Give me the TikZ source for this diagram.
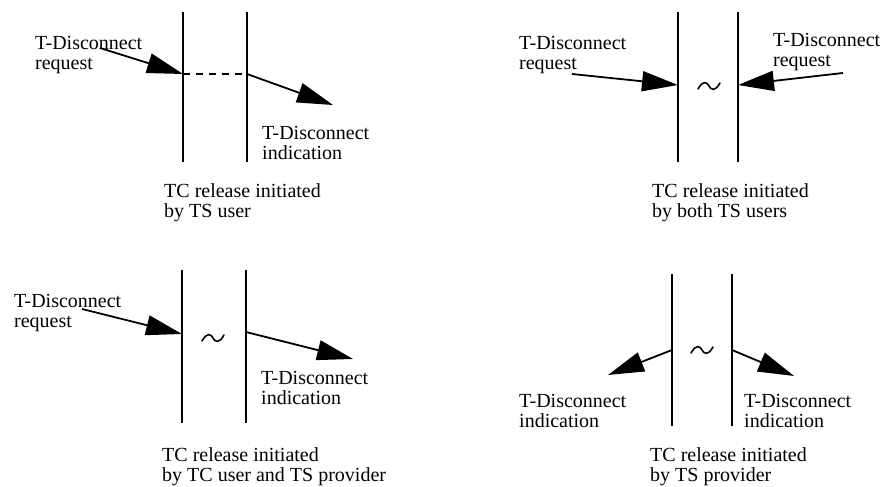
\documentclass[tikz,border=0pt]{standalone}
\usepackage{fontspec}
\setmainfont{Liberation Serif}
\usetikzlibrary{arrows.meta,calc}
\begin{document}
\begin{tikzpicture}[x=1pt,y=-1pt,
  lifeline/.style={line width=2pt},
  prim/.style={line width=1.8pt,-{Triangle[length=36pt,width=20pt]}},
  gap/.style={line width=1.8pt,dash pattern=on 7pt off 6pt},
  wave/.style={line width=1.6pt,line cap=round},
  lbl/.style={anchor=north west,inner sep=0pt,align=left,
    font=\fontsize{20}{20.5}\selectfont}]
\useasboundingbox (0,0) rectangle (892,487);

% ---- release initiated by one TS user ----
\coordinate (a1t) at (183,12);  \coordinate (a1b) at (183,162);
\coordinate (a2t) at (247,12);  \coordinate (a2b) at (247,162);
\coordinate (aL) at (183,74);   \coordinate (aR) at (247,74);
\coordinate (aIn) at (100,48);  \coordinate (aOut) at (333,105);
\draw[lifeline] (a1t) -- (a1b);
\draw[lifeline] (a2t) -- (a2b);
\node[lbl] (areq) at (35,36) {T-Disconnect\\request};
\node[lbl] (aind) at (262,126) {T-Disconnect\\indication};
\node[lbl] (acap) at (164,183) {TC release initiated\\by TS user};
\draw[prim] (aIn) -- (aL);
\draw[gap] (aL) -- (aR);
\draw[prim] (aR) -- (aOut);

% ---- release initiated by both TS users ----
\coordinate (b1t) at (678,12);  \coordinate (b1b) at (678,162);
\coordinate (b2t) at (738,12);  \coordinate (b2b) at (738,162);
\coordinate (bL) at (678,85);   \coordinate (bR) at (738,85);
\coordinate (bInL) at (572,74); \coordinate (bInR) at (843,73);
\coordinate (bw) at (709,86);
\draw[lifeline] (b1t) -- (b1b);
\draw[lifeline] (b2t) -- (b2b);
\node[lbl] (breqL) at (519,36) {T-Disconnect\\request};
\node[lbl] (breqR) at (773,33) {T-Disconnect\\request};
\node[lbl] (bcap) at (652,183) {TC release initiated\\by both TS users};
\draw[prim] (bInL) -- (bL);
\draw[prim] (bInR) -- (bR);
\draw[wave] ($(bw)+(-11,3)$) .. controls ($(bw)+(-6,-6)$) and ($(bw)+(-2,-4)$) .. (bw)
  .. controls ($(bw)+(2,4)$) and ($(bw)+(6,6)$) .. ($(bw)+(11,-3)$);

% ---- release initiated by TC user and TS provider ----
\coordinate (c1t) at (182,270); \coordinate (c1b) at (182,423);
\coordinate (c2t) at (246,270); \coordinate (c2b) at (246,423);
\coordinate (cL) at (182,334);  \coordinate (cR) at (246,332);
\coordinate (cIn) at (82,309);  \coordinate (cOut) at (353,359);
\coordinate (cw) at (213,338);
\draw[lifeline] (c1t) -- (c1b);
\draw[lifeline] (c2t) -- (c2b);
\node[lbl] (creq) at (14,294) {T-Disconnect\\request};
\node[lbl] (cind) at (261,371) {T-Disconnect\\indication};
\node[lbl] (ccap) at (162,447) {TC release initiated\\by TC user and TS provider};
\draw[prim] (cIn) -- (cL);
\draw[prim] (cR) -- (cOut);
\draw[wave] ($(cw)+(-11,3)$) .. controls ($(cw)+(-6,-6)$) and ($(cw)+(-2,-4)$) .. (cw)
  .. controls ($(cw)+(2,4)$) and ($(cw)+(6,6)$) .. ($(cw)+(11,-3)$);

% ---- release initiated by TS provider ----
\coordinate (d1t) at (672,274); \coordinate (d1b) at (672,426);
\coordinate (d2t) at (732,274); \coordinate (d2b) at (732,426);
\coordinate (dL) at (672,350);  \coordinate (dR) at (732,350);
\coordinate (dOutL) at (608,375); \coordinate (dOutR) at (794,376);
\coordinate (dw) at (702,350);
\draw[lifeline] (d1t) -- (d1b);
\draw[lifeline] (d2t) -- (d2b);
\node[lbl] (dindL) at (519,394) {T-Disconnect\\indication};
\node[lbl] (dindR) at (744,394) {T-Disconnect\\indication};
\node[lbl] (dcap) at (650,447) {TC release initiated\\by TS provider};
\draw[prim] (dL) -- (dOutL);
\draw[prim] (dR) -- (dOutR);
\draw[wave] ($(dw)+(-11,3)$) .. controls ($(dw)+(-6,-6)$) and ($(dw)+(-2,-4)$) .. (dw)
  .. controls ($(dw)+(2,4)$) and ($(dw)+(6,6)$) .. ($(dw)+(11,-3)$);
\end{tikzpicture}
\end{document}
